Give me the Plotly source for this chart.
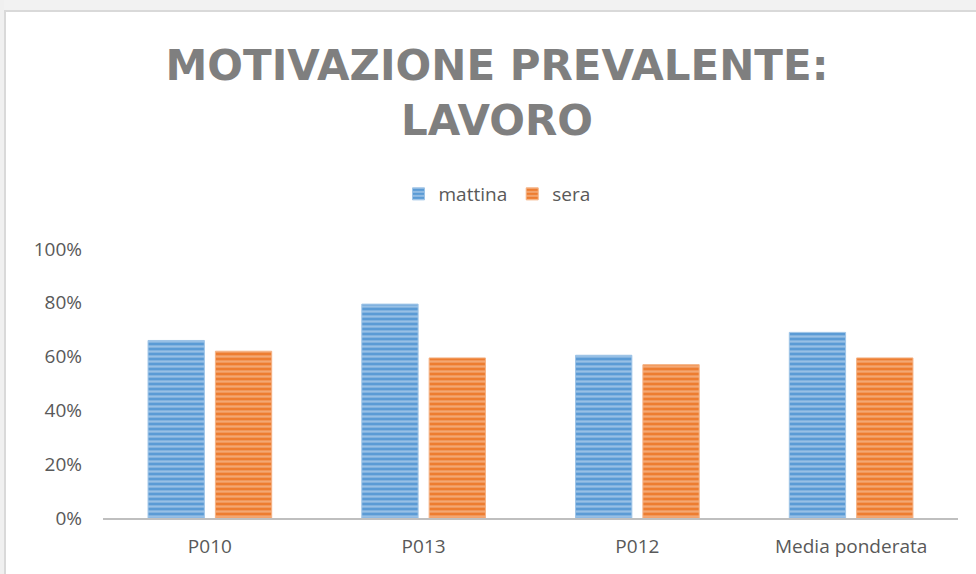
import plotly.graph_objects as go

categories = ["P010", "P013", "P012", "Media ponderata"]
mattina = [0.66, 0.795, 0.605, 0.69]
sera = [0.62, 0.595, 0.57, 0.595]
tick_vals = [0, 0.2, 0.4, 0.6, 0.8, 1.0]
tick_text = ["0%", "20%", "40%", "60%", "80%", "100%"]

W, H = 976, 574
L, R, T, B = 103, 18, 249, 56
PW = W - L - R
PH = H - T - B

def px(x):
    return (x - L) / PW

def py(y):
    return (H - B - y) / PH

fig = go.Figure()
fig.add_trace(go.Bar(
    name="mattina", x=categories, y=mattina,
    marker=dict(color="#5B9BD5", line=dict(color="#9DC3E6", width=1),
                pattern=dict(shape="-", fillmode="overlay", fgcolor="#D6E6F5", size=5, solidity=0.45)),
))
fig.add_trace(go.Bar(
    name="sera", x=categories, y=sera,
    marker=dict(color="#ED7D31", line=dict(color="#F4B183", width=1),
                pattern=dict(shape="-", fillmode="overlay", fgcolor="#FAD3B8", size=5, solidity=0.45)),
))

shapes = [
    dict(type="rect", xref="paper", yref="paper", x0=px(0), x1=px(W), y0=py(0), y1=py(11),
         fillcolor="#F2F2F2", line=dict(width=0), layer="below"),
    dict(type="rect", xref="paper", yref="paper", x0=px(0), x1=px(4), y0=py(0), y1=py(H),
         fillcolor="#F0F0F0", line=dict(width=0), layer="below"),
    dict(type="line", xref="paper", yref="paper", x0=px(4), x1=px(W), y0=py(11), y1=py(11),
         line=dict(color="#D9D9D9", width=2), layer="below"),
    dict(type="line", xref="paper", yref="paper", x0=px(5), x1=px(5), y0=py(11), y1=py(H),
         line=dict(color="#D9D9D9", width=2), layer="below"),
]

fig.update_layout(
    width=W, height=H,
    margin=dict(l=L, r=R, t=T, b=B),
    paper_bgcolor="white", plot_bgcolor="white",
    barmode="group", bargap=0.37, bargroupgap=0.164,
    title=dict(text="MOTIVAZIONE PREVALENTE:<br>LAVORO", x=497 / W, xanchor="center",
               y=1 - 80 / H, yanchor="middle",
               font=dict(family="DejaVu Sans", size=42, color="#7F7F7F", weight="bold")),
    legend=dict(orientation="h", x=px(497), xanchor="center", y=py(194), yanchor="middle",
                font=dict(family="Open Sans", size=19, color="#595959"),
                traceorder="normal"),
    font=dict(family="Open Sans", color="#595959"),
    shapes=shapes,
    xaxis=dict(showgrid=False, showline=True, linecolor="#BFBFBF", linewidth=2,
               tickfont=dict(size=19, color="#595959"), ticks="", ticklabelstandoff=10),
    yaxis=dict(range=[0, 1.0], tickvals=tick_vals, ticktext=tick_text, showgrid=False,
               zeroline=False, showline=False, ticks="",
               tickfont=dict(size=19, color="#595959"), ticklabelstandoff=20),
)

fig.write_html("out.html", config={"displayModeBar": False},
               post_script="document.body.style.margin='0';document.body.style.overflow='hidden';")
